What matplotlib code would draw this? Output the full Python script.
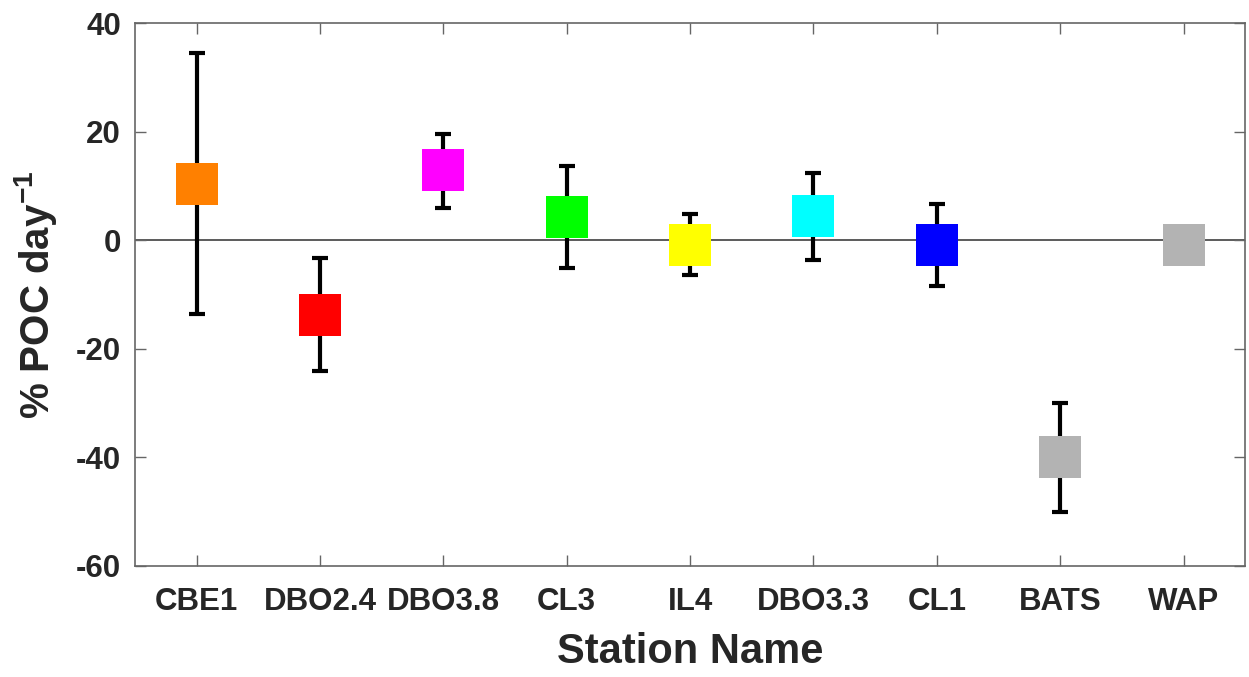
import numpy as np
import matplotlib
matplotlib.use("Agg")
import matplotlib.pyplot as plt

plt.rcParams['font.family'] = ['Liberation Sans', 'DejaVu Sans']
plt.rcParams['font.weight'] = 'bold'
plt.rcParams['axes.unicode_minus'] = False
plt.rcParams['mathtext.fontset'] = 'custom'
plt.rcParams['mathtext.bf'] = 'Liberation Sans:bold'
plt.rcParams['mathtext.rm'] = 'Liberation Sans:bold'
plt.rcParams['mathtext.default'] = 'bf'

stations = ["CBE1", "DBO2.4", "DBO3.8", "CL3", "IL4", "DBO3.3", "CL1", "BATS", "WAP"]
rate = [10.4, -13.7, 12.9, 4.2, -0.8, 4.4, -0.8, -40.0, -0.9]
err_top = [34.5, -3.2, 19.6, 13.7, 4.8, 12.3, 6.7, -29.9, np.nan]
err_bot = [-13.6, -24.1, 6.0, -5.2, -6.4, -3.6, -8.4, -50.0, np.nan]
colors = ["#FF8000", "#FF0000", "#FF00FF", "#00FF00", "#FFFF00",
          "#00FFFF", "#0000FF", "#B3B3B3", "#B3B3B3"]

x = np.arange(1, len(stations) + 1)
rate = np.array(rate)
lo = rate - np.array(err_bot)
hi = np.array(err_top) - rate

fig = plt.figure(figsize=(12.49, 6.77), dpi=100)
ax = fig.add_axes([0.108, 0.164, 0.889, 0.802])

ax.axhline(0, color="#404040", lw=1.2, zorder=1)

ok = ~np.isnan(lo)
ax.errorbar(x[ok], rate[ok], yerr=[lo[ok], hi[ok]], fmt="none", ecolor="black",
            elinewidth=3, capsize=6, capthick=3, zorder=2)
for xi, yi, c in zip(x, rate, colors):
    ax.plot(xi, yi, marker="s", ms=30, mfc=c, mec=c, mew=0, ls="none", zorder=3)

ax.set_xlim(0.5, 9.5)
ax.set_ylim(-60, 40)
ax.set_xticks(x)
ax.set_xticklabels(stations)
ax.set_yticks(np.arange(-60, 41, 20))

ax.tick_params(direction="in", length=8, width=1, color="#666666",
               top=True, right=True, labelsize=22.5, labelcolor="#262626")
ax.tick_params(axis="x", pad=15)
ax.tick_params(axis="y", pad=10)
for s in ax.spines.values():
    s.set_color("#666666")
    s.set_linewidth(1.2)

ax.set_xlabel("Station Name", fontsize=30, fontweight="bold", color="#262626", labelpad=11)
ax.set_ylabel("% POC day$^{-1}$", fontsize=29, fontweight="bold", color="#262626", labelpad=12)

fig.savefig("out.png", dpi=100)
